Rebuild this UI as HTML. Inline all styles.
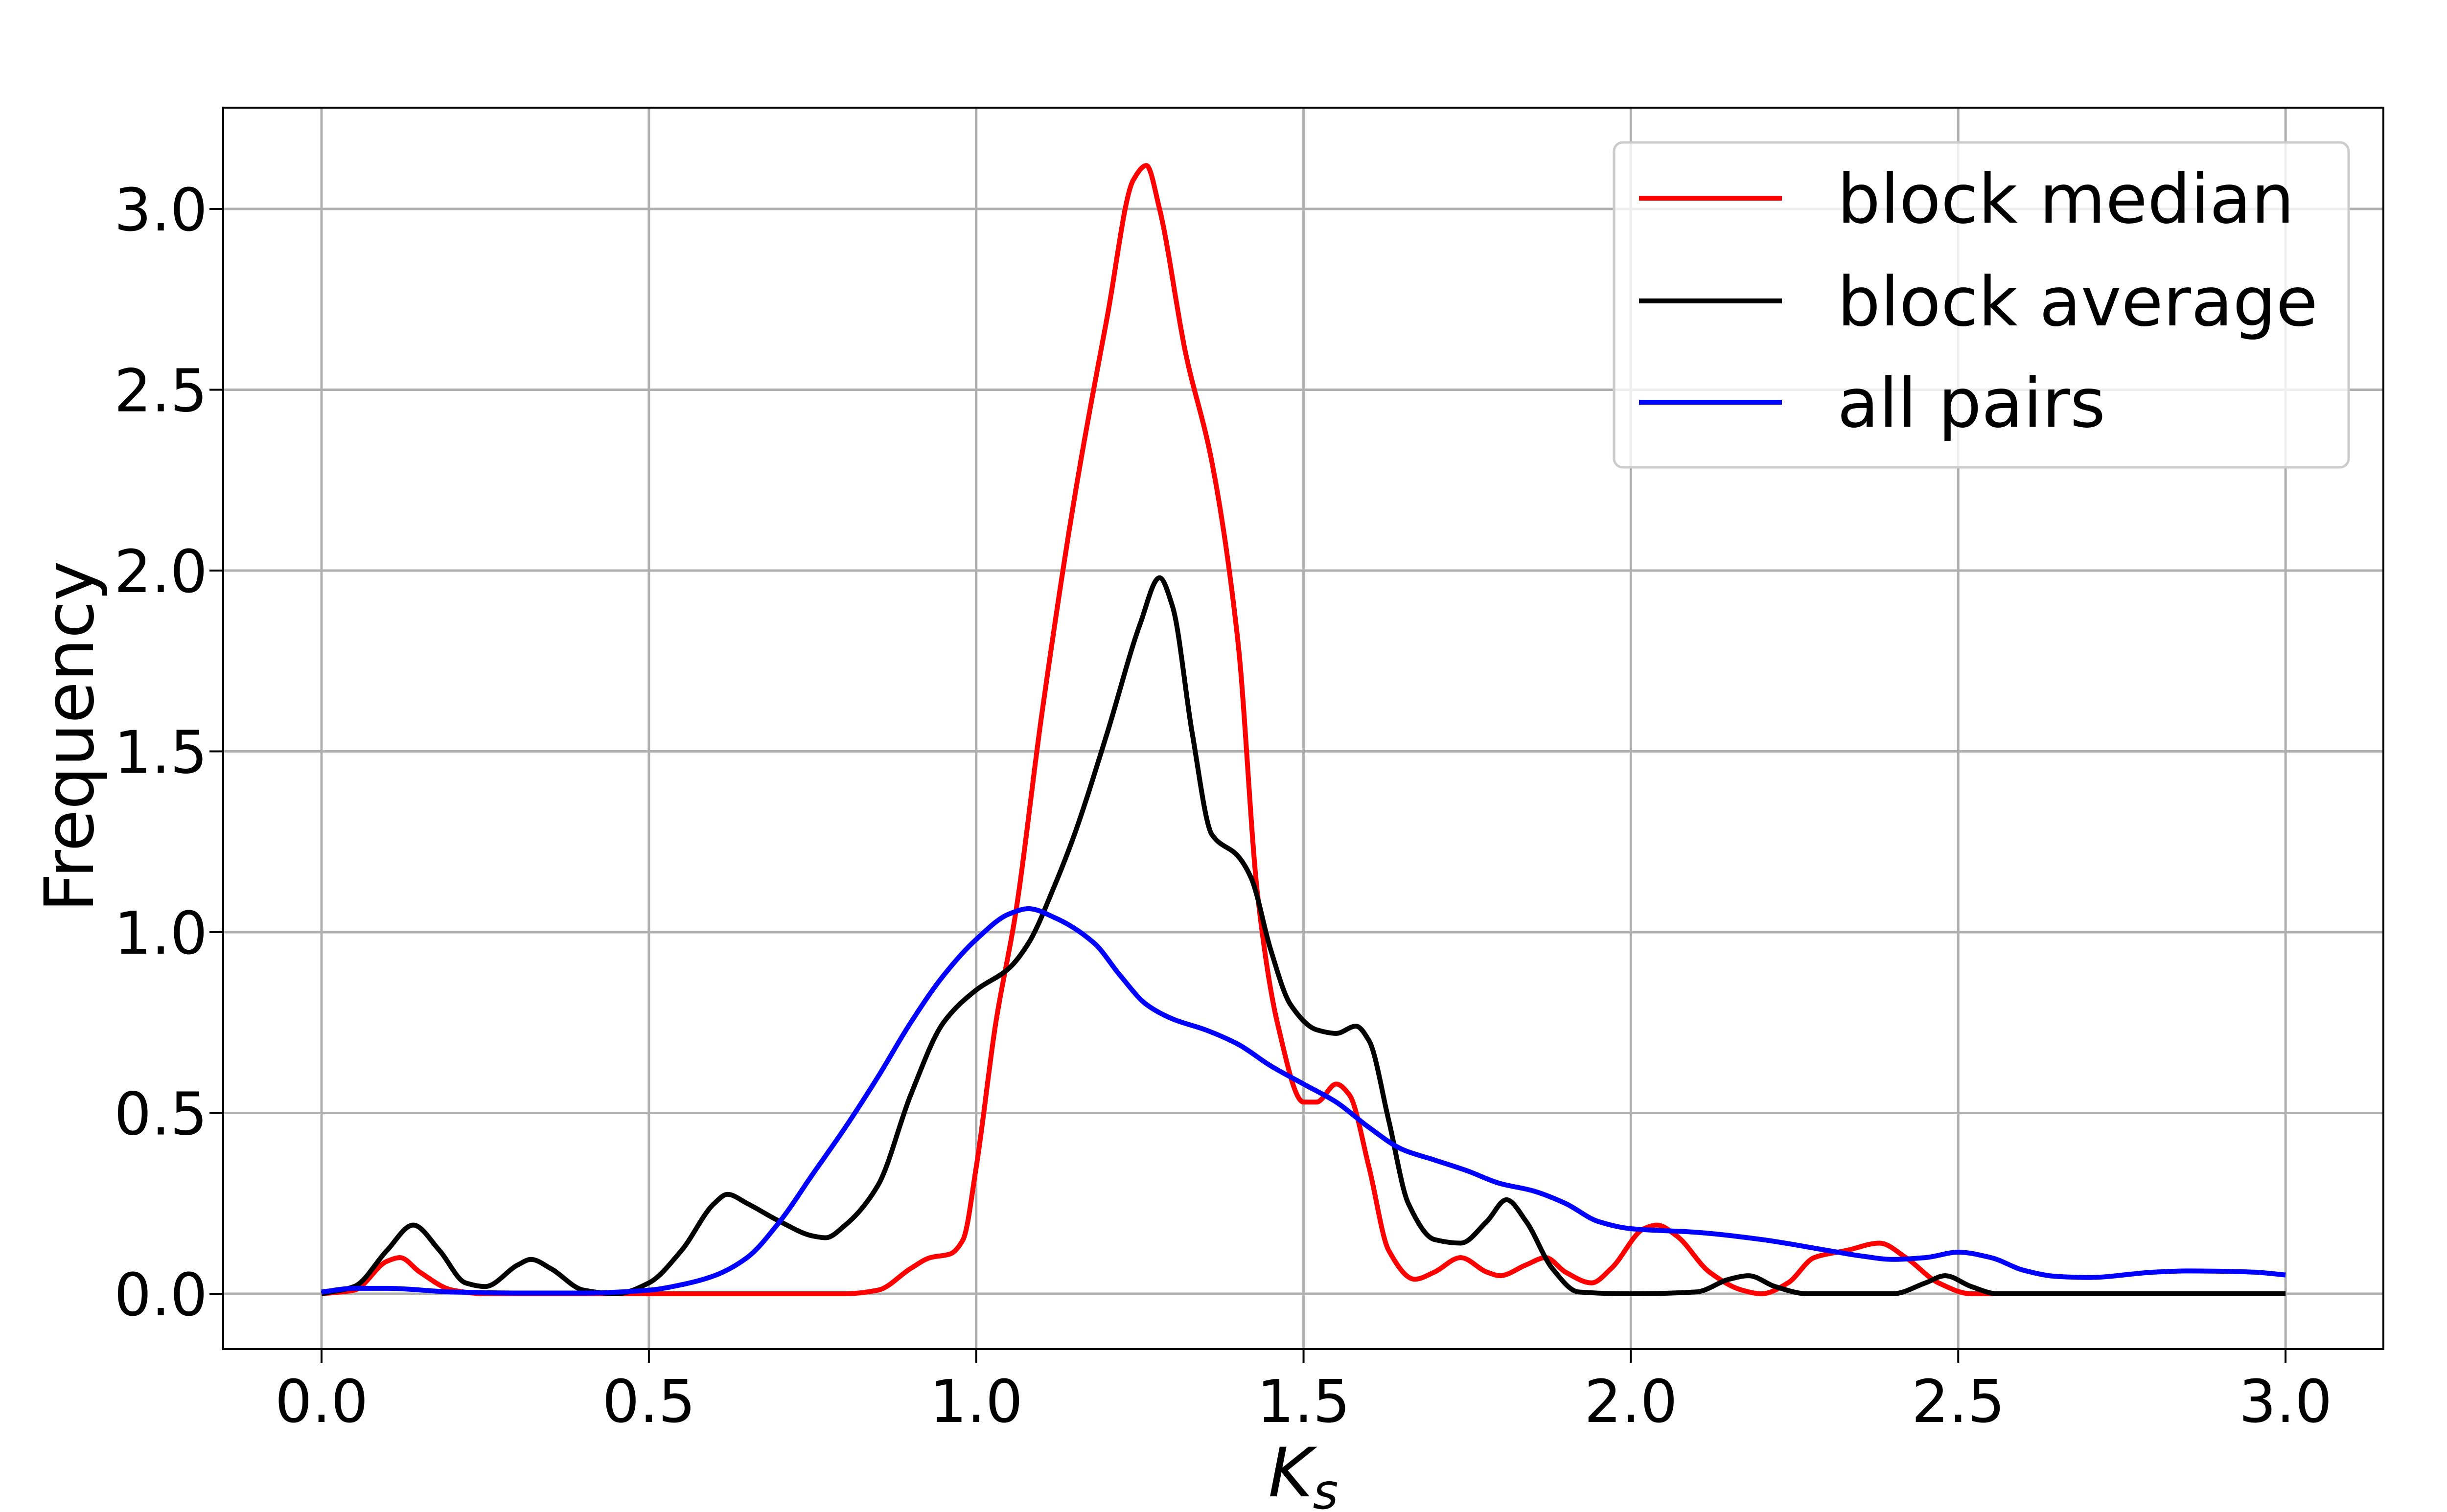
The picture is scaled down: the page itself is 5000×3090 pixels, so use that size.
<!DOCTYPE html>
<html><head><meta charset="utf-8"><style>
html,body{margin:0;padding:0;background:#fff;}
svg{display:block;}
text{font-family:"DejaVu Sans","Liberation Sans",sans-serif;}
</style></head><body>
<svg id="chart" width="5000" height="3090" viewBox="0 0 5000 3090" xmlns="http://www.w3.org/2000/svg">
<rect x="0" y="0" width="5000" height="3090" fill="#fff"/>
<g id="grid"></g>
<g id="series"></g>
<rect x="456" y="220" width="4414" height="2537" fill="none" stroke="#000" stroke-width="4"/>
<g id="ticks"></g>
<text x="2663" y="3058" font-size="139" text-anchor="middle"><tspan font-style="italic">K</tspan><tspan font-style="italic" font-size="100" dy="25">s</tspan></text>
<text x="0" y="0" font-size="139" text-anchor="middle" transform="translate(190,1505) rotate(-90)">Frequency</text>
<g>
<rect x="3298" y="291" width="1501" height="664" rx="18" fill="#fff" fill-opacity="0.8" stroke="#ccc" stroke-width="5"/>
<line x1="3349" y1="405" x2="3641" y2="405" stroke="#ff0000" stroke-width="10"/>
<text x="3754" y="455" font-size="139">block median</text>
<line x1="3349" y1="615" x2="3641" y2="615" stroke="#000" stroke-width="10"/>
<text x="3754" y="665" font-size="139">block average</text>
<line x1="3349" y1="822" x2="3641" y2="822" stroke="#0000ff" stroke-width="10"/>
<text x="3754" y="872" font-size="139">all pairs</text>
</g>
</svg>
<script>
const xTicks = [0, 0.5, 1.0, 1.5, 2.0, 2.5, 3.0];
const xTickLabels = ["0.0","0.5","1.0","1.5","2.0","2.5","3.0"];
const yTicks = [0, 0.5, 1.0, 1.5, 2.0, 2.5, 3.0];
const yTickLabels = ["0.0","0.5","1.0","1.5","2.0","2.5","3.0"];

const medianX = [0,0.05,0.1,0.12,0.15,0.2,0.25,0.8,0.85,0.9,0.93,0.96,0.98,1.0,1.03,1.06,1.1,1.15,1.2,1.24,1.26,1.28,1.32,1.36,1.4,1.43,1.46,1.5,1.52,1.55,1.57,1.6,1.63,1.67,1.7,1.74,1.78,1.8,1.84,1.87,1.9,1.94,1.97,2.02,2.04,2.07,2.12,2.17,2.2,2.24,2.28,2.33,2.38,2.42,2.47,2.52,3.0];
const medianY = [0,0.01,0.09,0.1,0.06,0.01,0,0,0.01,0.07,0.1,0.11,0.15,0.35,0.75,1.05,1.6,2.2,2.7,3.08,3.12,3.0,2.6,2.3,1.8,1.1,0.75,0.53,0.53,0.58,0.55,0.35,0.12,0.04,0.06,0.1,0.06,0.05,0.08,0.1,0.06,0.03,0.07,0.18,0.19,0.16,0.06,0.01,0,0.03,0.1,0.12,0.14,0.1,0.03,0,0];

const averageX = [0,0.05,0.1,0.14,0.18,0.22,0.25,0.3,0.32,0.35,0.4,0.45,0.5,0.55,0.6,0.62,0.65,0.7,0.75,0.77,0.8,0.85,0.9,0.95,1.0,1.05,1.08,1.12,1.15,1.2,1.25,1.28,1.3,1.33,1.36,1.4,1.42,1.45,1.48,1.52,1.55,1.58,1.6,1.63,1.66,1.7,1.74,1.78,1.81,1.84,1.88,1.92,2.0,2.1,2.15,2.18,2.22,2.27,2.4,2.45,2.48,2.52,2.56,3.0];
const averageY = [0,0.02,0.12,0.19,0.12,0.03,0.02,0.08,0.095,0.07,0.01,0,0.03,0.12,0.25,0.275,0.25,0.2,0.16,0.155,0.19,0.3,0.55,0.75,0.84,0.9,0.97,1.13,1.27,1.55,1.85,1.98,1.9,1.55,1.27,1.21,1.15,0.95,0.8,0.73,0.72,0.74,0.7,0.48,0.25,0.15,0.14,0.2,0.26,0.2,0.07,0.005,0,0.005,0.04,0.05,0.02,0,0,0.03,0.05,0.02,0,0];

const allPairsX = [0,0.05,0.1,0.2,0.3,0.4,0.5,0.55,0.6,0.65,0.7,0.75,0.8,0.85,0.9,0.95,1.0,1.05,1.08,1.12,1.18,1.22,1.26,1.3,1.35,1.4,1.45,1.5,1.55,1.6,1.65,1.7,1.75,1.8,1.85,1.9,1.95,2.0,2.1,2.2,2.3,2.35,2.4,2.45,2.5,2.55,2.6,2.65,2.7,2.8,2.85,2.95,3.0];
const allPairsY = [0.005,0.015,0.015,0.005,0.002,0.002,0.01,0.025,0.05,0.1,0.2,0.33,0.46,0.6,0.75,0.88,0.98,1.05,1.065,1.04,0.97,0.88,0.8,0.76,0.73,0.69,0.63,0.58,0.53,0.46,0.4,0.37,0.34,0.305,0.285,0.25,0.2,0.18,0.17,0.15,0.12,0.105,0.095,0.1,0.115,0.1,0.065,0.048,0.045,0.06,0.063,0.06,0.052];

const NS = "http://www.w3.org/2000/svg";
const L = 456, R = 4870, T = 220, B = 2757;
function xs(v){ return 657 + v * 1337.7; }
function ys(v){ return 2644 - v * 739; }

const grid = document.getElementById('grid');
const ticks = document.getElementById('ticks');
xTicks.forEach((v, i) => {
  const g = document.createElementNS(NS, 'line');
  g.setAttribute('x1', xs(v)); g.setAttribute('x2', xs(v));
  g.setAttribute('y1', T); g.setAttribute('y2', B);
  g.setAttribute('stroke', '#b0b0b0'); g.setAttribute('stroke-width', '5');
  
  
  grid.appendChild(g);
  const t = document.createElementNS(NS, 'line');
  t.setAttribute('x1', xs(v)); t.setAttribute('x2', xs(v));
  t.setAttribute('y1', B); t.setAttribute('y2', B + 28);
  t.setAttribute('stroke', '#000'); t.setAttribute('stroke-width', '4');
  
  
  ticks.appendChild(t);
  const tx = document.createElementNS(NS, 'text');
  tx.setAttribute('x', xs(v)); tx.setAttribute('y', 2906);
  tx.setAttribute('font-size', '120'); tx.setAttribute('text-anchor', 'middle');
  tx.textContent = xTickLabels[i];
  
  
  ticks.appendChild(tx);
});
yTicks.forEach((v, i) => {
  const g = document.createElementNS(NS, 'line');
  g.setAttribute('x1', L); g.setAttribute('x2', R);
  g.setAttribute('y1', ys(v)); g.setAttribute('y2', ys(v));
  g.setAttribute('stroke', '#b0b0b0'); g.setAttribute('stroke-width', '5');
  
  
  grid.appendChild(g);
  const t = document.createElementNS(NS, 'line');
  t.setAttribute('x1', L - 28); t.setAttribute('x2', L);
  t.setAttribute('y1', ys(v)); t.setAttribute('y2', ys(v));
  t.setAttribute('stroke', '#000'); t.setAttribute('stroke-width', '4');
  
  
  ticks.appendChild(t);
  const tx = document.createElementNS(NS, 'text');
  tx.setAttribute('x', 424); tx.setAttribute('y', ys(v) + 44);
  tx.setAttribute('font-size', '120'); tx.setAttribute('text-anchor', 'end');
  tx.textContent = yTickLabels[i];
  
  
  ticks.appendChild(tx);
});

// monotone cubic (Fritsch-Carlson) to avoid overshoot
function smoothPath(X, Y){
  const px = X.map(xs), py = Y.map(ys);
  const n = px.length;
  const d = [], m = new Array(n);
  for (let i = 0; i < n - 1; i++) d.push((py[i+1] - py[i]) / (px[i+1] - px[i]));
  m[0] = d[0]; m[n-1] = d[n-2];
  for (let i = 1; i < n - 1; i++) {
    if (d[i-1] * d[i] <= 0) m[i] = 0;
    else {
      const h0 = px[i] - px[i-1], h1 = px[i+1] - px[i];
      const w1 = 2*h1 + h0, w2 = h1 + 2*h0;
      m[i] = (w1 + w2) / (w1 / d[i-1] + w2 / d[i]);
    }
  }
  let s = 'M' + px[0].toFixed(1) + ',' + py[0].toFixed(1);
  for (let i = 0; i < n - 1; i++) {
    const h = px[i+1] - px[i];
    s += 'C' + (px[i] + h/3).toFixed(1) + ',' + (py[i] + m[i]*h/3).toFixed(1) + ' ' +
         (px[i+1] - h/3).toFixed(1) + ',' + (py[i+1] - m[i+1]*h/3).toFixed(1) + ' ' +
         px[i+1].toFixed(1) + ',' + py[i+1].toFixed(1);
  }
  return s;
}
const series = document.getElementById('series');
function addLine(X, Y, color, name){
  const path = document.createElementNS(NS, 'path');
  path.setAttribute('d', smoothPath(X, Y));
  path.setAttribute('fill', 'none');
  path.setAttribute('stroke', color);
  path.setAttribute('stroke-width', '10');
  path.setAttribute('stroke-linejoin', 'round');
  
  
  series.appendChild(path);
}
addLine(medianX, medianY, '#ff0000', 'block-median-line');
addLine(averageX, averageY, '#000000', 'block-average-line');
addLine(allPairsX, allPairsY, '#0000ff', 'all-pairs-line');
</script>
</body></html>
